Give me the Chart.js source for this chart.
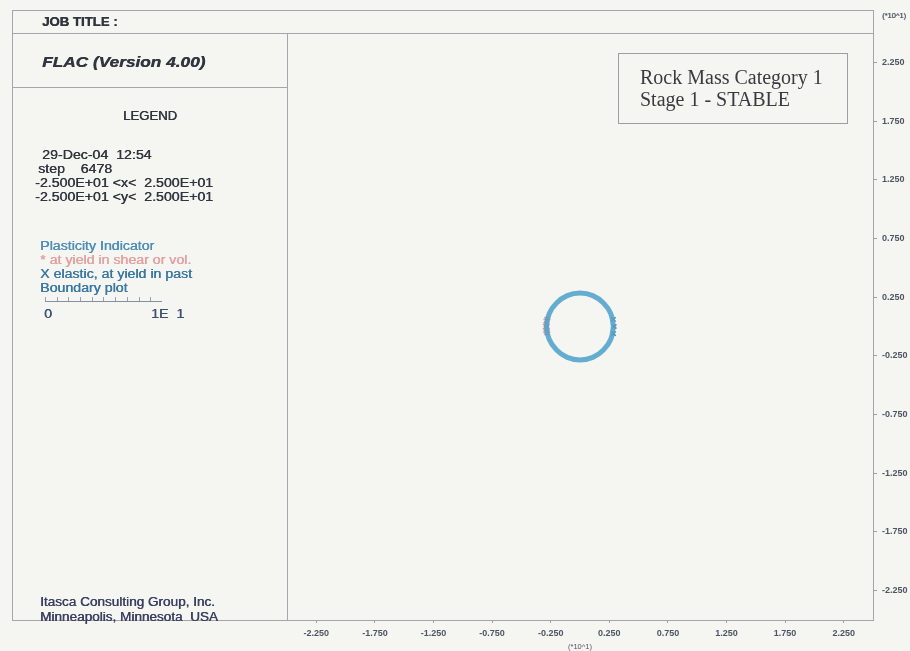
<!DOCTYPE html>
<html>
<head>
<meta charset="utf-8">
<script src="https://cdn.jsdelivr.net/npm/chart.js@4/dist/chart.umd.min.js"></script>
<style>
  html, body { margin: 0; padding: 0; background: #f5f5f2; }
  #page { position: relative; width: 910px; height: 651px; overflow: hidden; font-family: "Liberation Sans", Arial, sans-serif; }
  #wrap { position: absolute; left: 0; top: 0; width: 910px; height: 651px; }
  .ln { position: absolute; background: #a4a6ac; }
  .t { position: absolute; white-space: nowrap; font-size: 12px; color: #33353e; transform-origin: 0 50%; transform: scaleX(1.18);
       text-shadow: 0.4px 0 0 currentColor; }
  #note { position: absolute; left: 618px; top: 53px; width: 230px; height: 71px; border: 1px solid #9c9ea4; box-sizing: border-box;
          font-family: "Liberation Serif", "Times New Roman", serif; font-size: 20px; line-height: 22px; color: #3a3a40; padding: 12px 0 0 21px; }
  #bar { position: absolute; left: 45px; top: 297px; width: 117px; height: 4px; border-bottom: 1px solid #8890a0;
         background: repeating-linear-gradient(90deg, #9aa0b0 0 1px, transparent 1px 11.7px); }
</style>
</head>
<body>
<div id="page">
  <div id="wrap"><canvas id="chart"></canvas></div>

  <!-- frame -->
  <div class="ln" style="left:12px;top:10px;width:862px;height:1px"></div>
  <div class="ln" style="left:12px;top:33px;width:862px;height:1px"></div>
  <div class="ln" style="left:12px;top:87px;width:275px;height:1px"></div>
  <div class="ln" style="left:12px;top:620px;width:862px;height:1px"></div>
  <div class="ln" style="left:12px;top:10px;width:1px;height:611px"></div>
  <div class="ln" style="left:287px;top:33px;width:1px;height:588px"></div>
  <div class="ln" style="left:873px;top:10px;width:1px;height:611px"></div>

  <!-- left panel -->
  <div class="t" style="left:42px;top:15px;font-weight:bold;font-size:12px;transform:scaleX(1.1)">JOB TITLE :</div>
  <div class="t" style="left:42px;top:53px;font-weight:bold;font-style:italic;font-size:15px;transform:scaleX(1.15)">FLAC (Version 4.00)</div>
  <div class="t" style="left:123px;top:109px;font-size:12.5px;transform:scaleX(1.05)">LEGEND</div>
  <div class="t" style="left:42px;top:148px">29-Dec-04 &nbsp;12:54</div>
  <div class="t" style="left:38px;top:162px">step &nbsp;&nbsp;&nbsp;6478</div>
  <div class="t" style="left:35px;top:176px">-2.500E+01 &lt;x&lt; &nbsp;2.500E+01</div>
  <div class="t" style="left:35px;top:190px">-2.500E+01 &lt;y&lt; &nbsp;2.500E+01</div>

  <div class="t" style="left:40px;top:239px;color:#4f8fb6">Plasticity Indicator</div>
  <div class="t" style="left:40px;top:253px;color:#e2a2a2">* at yield in shear or vol.</div>
  <div class="t" style="left:40px;top:267px;color:#3a78a2">X elastic, at yield in past</div>
  <div class="t" style="left:40px;top:281px;color:#3a78a2">Boundary plot</div>
  <div id="bar"></div>
  <div class="t" style="left:44px;top:307px;color:#3c5070">0</div>
  <div class="t" style="left:151px;top:307px;color:#3c5070">1E &nbsp;1</div>

  <div class="t" style="left:40px;top:595px;color:#3c4060;transform:scaleX(1.13)">Itasca Consulting Group, Inc.</div>
  <div class="t" style="left:40px;top:610px;color:#3c4060;transform:scaleX(1.13)">Minneapolis, Minnesota &nbsp;USA</div>

  <div class="t" style="left:882px;top:11px;font-size:7.5px;color:#555a66;transform:none">(*10^1)</div>

  <div id="note">Rock Mass Category 1<br>Stage 1 - STABLE</div>
</div>

<script>
// tick labels (units of 10^1)
const xTickLabels = ["-2.250", "-1.750", "-1.250", "-0.750", "-0.250", "0.250", "0.750", "1.250", "1.750", "2.250"];
const yTickLabels = ["2.250", "1.750", "1.250", "0.750", "0.250", "-0.250", "-0.750", "-1.250", "-1.750", "-2.250"];

// excavation boundary (x, y in units of 10^1)
const boundaryX = [0.285, 0.263, 0.200, 0.109, 0.000, -0.109, -0.200, -0.263, -0.285, -0.263, -0.200, -0.109, 0.000, 0.109, 0.200, 0.263, 0.285];
const boundaryY = [0.000, 0.109, 0.200, 0.263, 0.285, 0.263, 0.200, 0.109, 0.000, -0.109, -0.200, -0.263, -0.285, -0.263, -0.200, -0.109, 0.000];

// "*" yielding zones (left wall)
const yieldX = [-0.282, -0.288, -0.288, -0.284];
const yieldY = [0.060, 0.020, -0.020, -0.050];

// "X" elastic, yielded in the past (right wall)
const pastX = [0.285, 0.292, 0.286];
const pastY = [0.060, 0.000, -0.060];

const toPts = (xs, ys) => xs.map((x, i) => ({ x: x, y: ys[i] }));

const tickFont = { family: "Liberation Sans", size: 9, weight: "bold" };

new Chart(document.getElementById("chart"), {
  type: "scatter",
  data: {
    datasets: [
      {
        label: "Boundary plot",
        data: toPts(boundaryX, boundaryY),
        showLine: true,
        tension: 0.4,
        borderColor: "rgba(84,164,204,0.9)",
        borderWidth: 5,
        pointRadius: 0,
        fill: false
      },
      {
        label: "at yield in shear or vol.",
        data: toPts(yieldX, yieldY),
        showLine: false,
        pointStyle: "star",
        pointRadius: 3.5,
        borderWidth: 1.5,
        borderColor: "rgba(214,140,140,0.9)",
        backgroundColor: "rgba(214,140,140,0.9)"
      },
      {
        label: "elastic, at yield in past",
        data: toPts(pastX, pastY),
        showLine: false,
        pointStyle: "crossRot",
        pointRadius: 3,
        borderWidth: 1.5,
        borderColor: "rgba(40,95,135,0.85)"
      }
    ]
  },
  options: {
    responsive: true,
    maintainAspectRatio: false,
    animation: false,
    layout: { padding: { left: 287, top: 33, right: 0, bottom: 0 } },
    plugins: { legend: { display: false }, tooltip: { enabled: false } },
    scales: {
      x: {
        type: "linear",
        position: "bottom",
        min: -2.5,
        max: 2.5,
        afterBuildTicks: (s) => { s.ticks = xTickLabels.map((t) => ({ value: parseFloat(t) })); },
        afterFit: (s) => { s.height = 31; },
        border: { display: false },
        grid: { drawOnChartArea: false, drawTicks: true, tickLength: 3, color: "#9a9eaa" },
        ticks: {
          autoSkip: false,
          maxRotation: 0,
          padding: 5,
          color: "#4f5462",
          font: tickFont,
          callback: (v, i) => xTickLabels[i]
        },
        title: { display: true, text: "(*10^1)", color: "#4f5462", font: { family: "Liberation Sans", size: 7.5 }, padding: 0 }
      },
      y: {
        type: "linear",
        position: "right",
        min: -2.5,
        max: 2.5,
        afterBuildTicks: (s) => { s.ticks = yTickLabels.map((t) => ({ value: parseFloat(t) })); },
        afterFit: (s) => { s.width = 37; },
        border: { display: false },
        grid: { drawOnChartArea: false, drawTicks: true, tickLength: 4, color: "#9a9eaa" },
        ticks: {
          autoSkip: false,
          padding: 5,
          color: "#4f5462",
          font: tickFont,
          callback: (v) => yTickLabels.find((t) => parseFloat(t) === v)
        }
      }
    }
  }
});
</script>
</body>
</html>
